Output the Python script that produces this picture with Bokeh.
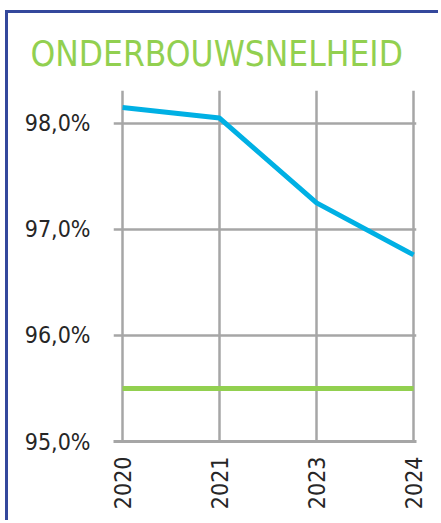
import math
from bokeh.plotting import figure
from bokeh.models import FixedTicker, Range1d
from bokeh.embed import file_html
from bokeh.resources import INLINE

years = ["2020", "2021", "2023", "2024"]
snelheid = [98.15, 98.05, 97.25, 96.76]
norm = [95.5, 95.5, 95.5, 95.5]
y_ticks = [95, 96, 97, 98]
y_labels = ["95,0%", "96,0%", "97,0%", "98,0%"]

FONT = "'DejaVu Sans Condensed', 'Open Sans'"
x = list(range(len(years)))

p = figure(width=433, height=510, output_backend="svg", toolbar_location=None,
           x_range=Range1d(-0.093, 3.03), y_range=Range1d(95.0, 98.31),
           min_border_left=105, min_border_right=25, min_border_top=77,
           min_border_bottom=82)
p.outline_line_color = None
p.background_fill_color = "white"
p.border_fill_color = "white"

p.title.text = "ONDERBOUWSNELHEID"
p.title.text_font = FONT
p.title.text_font_size = "35px"
p.title.text_font_style = "normal"
p.title.text_color = "#92d050"
p.title.offset = -83
p.title.standoff = 34

p.line(x, snelheid, line_color="#00b0e4", line_width=5)
p.line(x, norm, line_color="#92d050", line_width=5)

p.yaxis.ticker = FixedTicker(ticks=y_ticks)
p.yaxis.major_label_overrides = {t: l for t, l in zip(y_ticks, y_labels)}
p.yaxis.axis_line_color = None
p.yaxis.major_tick_out = 0
p.yaxis.major_tick_in = 0
p.yaxis.minor_tick_line_color = None
p.yaxis.major_label_standoff = 23
p.yaxis.major_label_text_font = FONT
p.yaxis.major_label_text_font_size = "23px"
p.yaxis.major_label_text_color = "#262626"

p.xaxis.ticker = FixedTicker(ticks=x)
p.xaxis.major_label_overrides = {i: y for i, y in zip(x, years)}
p.xaxis.major_label_orientation = math.pi / 2
p.xaxis.axis_line_color = "#a6a6a6"
p.xaxis.axis_line_width = 3
p.xaxis.major_tick_out = 0
p.xaxis.major_tick_in = 0
p.xaxis.minor_tick_line_color = None
p.xaxis.major_label_standoff = 15
p.xaxis.major_label_text_font = FONT
p.xaxis.major_label_text_font_size = "23px"
p.xaxis.major_label_text_color = "#262626"

p.xgrid.ticker = FixedTicker(ticks=x)
p.ygrid.ticker = FixedTicker(ticks=y_ticks)
p.grid.grid_line_color = "#a6a6a6"
p.grid.grid_line_width = 2.5

p.styles = {"border-left": "3px solid #34489c", "border-top": "3px solid #34489c",
            "margin-left": "5px", "margin-top": "10px"}

open("out.html", "w").write(file_html(p, INLINE))
